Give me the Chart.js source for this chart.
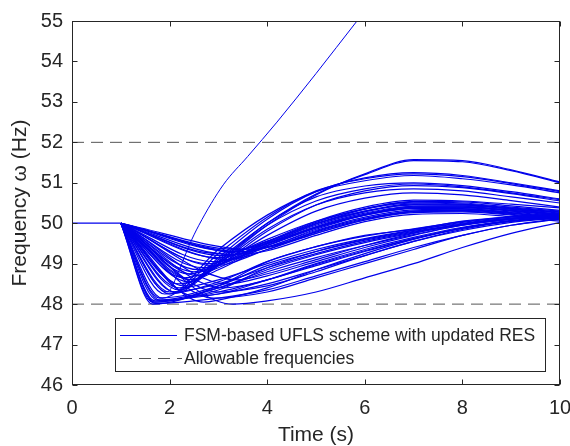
<!DOCTYPE html>
<html>
<head>
<meta charset="utf-8">
<script src="https://cdn.jsdelivr.net/npm/chart.js@4.4.1/dist/chart.umd.min.js"></script>
<style>
html,body{margin:0;padding:0;background:#fff;}
#wrap{width:570px;height:446px;}
</style>
</head>
<body>
<div id="wrap"><canvas id="c" width="570" height="446"></canvas></div>
<script>
// ---------- data ----------
const xTicks = [0, 2, 4, 6, 8, 10];
const yTicks = [46, 47, 48, 49, 50, 51, 52, 53, 54, 55];
const legendLabels = ['FSM-based UFLS scheme with updated RES', 'Allowable frequencies'];
const limitFreqs = [48, 52];
const preEventTimes = [0, 1];
const preEventFreqs = [50, 50];
const timeGrid = [3, 4, 5, 6, 7, 8, 9, 10];
// each row: [minTime, minFreq, f(3), f(4), f(5), f(6), f(7), f(8), f(9), f(10)]
const upperCurves = [
  [2.2, 48.35, 49.0, 49.95, 50.7, 51.22, 51.57, 51.55, 51.32, 51.02],
  [2.1, 48.30, 49.1, 50.0, 50.72, 51.2, 51.55, 51.52, 51.3, 51.0],
  [2.0, 48.25, 49.25, 50.15, 50.8, 51.1, 51.22, 51.15, 50.98, 50.78],
  [2.15, 48.28, 49.15, 50.1, 50.78, 51.12, 51.25, 51.18, 51.0, 50.8],
  [1.85, 48.15, 49.35, 50.2, 50.78, 51.05, 51.18, 51.1, 50.95, 50.75],
  [2.4, 48.55, 49.05, 49.95, 50.55, 50.85, 50.97, 50.9, 50.75, 50.58],
  [2.3, 48.45, 49.05, 50.0, 50.65, 50.92, 51.0, 50.93, 50.78, 50.6],
  [2.6, 48.70, 48.95, 49.8, 50.45, 50.8, 50.93, 50.88, 50.73, 50.55],
  [2.45, 48.6, 49.0, 49.85, 50.45, 50.75, 50.85, 50.8, 50.65, 50.5],
  [2.5, 48.60, 48.95, 49.7, 50.3, 50.62, 50.75, 50.7, 50.56, 50.4]
];
const middleCurves = [
  [2.8, 49.0, null, 49.55, 50.05, 50.4, 50.57, 50.55, 50.47, 50.38],
  [3.0, 49.25, null, 49.55, 50.02, 50.36, 50.54, 50.53, 50.43, 50.32],
  [3.0, 49.15, null, 49.5, 49.98, 50.35, 50.52, 50.5, 50.4, 50.3],
  [2.5, 48.8, 48.98, 49.52, 49.98, 50.3, 50.48, 50.47, 50.38, 50.28],
  [3.3, 49.3, null, 49.55, 50.0, 50.3, 50.45, 50.45, 50.36, 50.25],
  [2.6, 48.85, 49.05, 49.6, 50.05, 50.35, 50.5, 50.47, 50.35, 50.22],
  [3.4, 49.35, null, 49.5, 49.9, 50.22, 50.4, 50.4, 50.32, 50.2],
  [3.3, 49.22, null, 49.45, 49.88, 50.2, 50.38, 50.4, 50.32, 50.2],
  [2.3, 48.65, 48.9, 49.48, 49.92, 50.25, 50.42, 50.42, 50.32, 50.2],
  [2.9, 49.05, null, 49.4, 49.85, 50.2, 50.38, 50.38, 50.3, 50.18],
  [3.1, 49.2, null, 49.42, 49.82, 50.15, 50.33, 50.35, 50.28, 50.15],
  [2.7, 48.9, 48.98, 49.45, 49.9, 50.22, 50.42, 50.43, 50.35, 50.22],
  [3.5, 49.3, null, 49.4, 49.75, 50.08, 50.28, 50.3, 50.22, 50.1],
  [3.7, 49.35, null, 49.4, 49.78, 50.1, 50.3, 50.33, 50.25, 50.12],
  [2.4, 48.75, 48.95, 49.5, 49.95, 50.28, 50.46, 50.45, 50.36, 50.27],
  [2.9, 48.95, null, 49.35, 49.8, 50.12, 50.3, 50.32, 50.24, 50.12],
  [3.2, 49.1, null, 49.35, 49.75, 50.08, 50.26, 50.28, 50.2, 50.08],
  [2.2, 48.5, 48.85, 49.45, 49.9, 50.2, 50.36, 50.36, 50.26, 50.13],
  [3.6, 49.25, null, 49.32, 49.7, 50.04, 50.22, 50.24, 50.16, 50.05]
];
const slowCurves = [
  [3.3, 48.0, null, 48.08, 48.3, 48.65, 49.0, 49.4, 49.75, 50.02],
  [2.9, 48.15, null, 48.3, 48.65, 49.0, 49.35, 49.7, 49.95, 50.1],
  [1.7, 48.02, 48.15, 48.35, 48.7, 49.05, 49.4, 49.7, 49.95, 50.12],
  [1.8, 48.1, 48.25, 48.5, 48.85, 49.2, 49.55, 49.82, 50.02, 50.14],
  [1.65, 48.05, 48.3, 48.6, 48.95, 49.3, 49.62, 49.88, 50.05, 50.15],
  [3.1, 48.4, null, 48.6, 48.98, 49.32, 49.62, 49.88, 50.05, 50.16],
  [1.75, 48.1, 48.4, 48.8, 49.15, 49.45, 49.72, 49.95, 50.1, 50.18],
  [1.7, 48.05, 48.4, 48.85, 49.22, 49.52, 49.76, 49.96, 50.1, 50.2],
  [1.8, 48.15, 48.45, 48.95, 49.3, 49.58, 49.8, 49.98, 50.12, 50.2],
  [3.0, 48.3, null, 48.45, 48.8, 49.2, 49.55, 49.85, 50.05, 50.15],
  [2.5, 48.2, 48.25, 48.6, 49.0, 49.35, 49.65, 49.9, 50.07, 50.17],
  [2.0, 48.3, 48.5, 48.9, 49.25, 49.55, 49.78, 49.97, 50.1, 50.17],
  [1.7, 48.08, 48.35, 48.9, 49.3, 49.6, 49.82, 50.02, 50.15, 50.24],
  [3.2, 48.5, null, 48.7, 49.05, 49.4, 49.7, 49.95, 50.1, 50.2],
  [3.4, 48.6, null, 48.75, 49.1, 49.45, 49.75, 49.98, 50.12, 50.2],
  [1.9, 48.25, 48.55, 49.05, 49.42, 49.7, 49.85, 50.05, 50.16, 50.22],
  [2.7, 48.05, 48.1, 48.4, 48.85, 49.25, 49.6, 49.88, 50.06, 50.14],
  [1.65, 48.0, 48.45, 49.05, 49.42, 49.68, 49.86, 50.04, 50.16, 50.24],
  [2.2, 48.4, 48.6, 49.0, 49.35, 49.62, 49.83, 50.0, 50.12, 50.18]
];
const runawayTimes = [1, 1.95, 2.2, 2.4, 2.6, 3.1, 3.6, 4.2, 5.0, 5.84, 6.2];
const runawayFreqs = [50, 48.3, 48.85, 49.45, 49.95, 50.95, 51.65, 52.5, 53.7, 55.0, 55.55];

// ---------- build datasets ----------
const BLUE = 'rgb(0,0,235)';
const GRAYDASH = 'rgb(85,85,85)';
const DASH = [12, 7];
function curvePoints(row) {
  const pts = [{x: preEventTimes[1], y: preEventFreqs[1]}, {x: row[0], y: row[1]}];
  timeGrid.forEach((t, i) => {
    const v = row[i + 2];
    if (v !== null && t > row[0] + 0.1) pts.push({x: t, y: v});
  });
  return pts;
}
const lineStyle = {borderColor: BLUE, borderWidth: 1.2, pointRadius: 0, fill: false, cubicInterpolationMode: 'monotone'};
const datasets = [];
[...upperCurves, ...middleCurves, ...slowCurves].forEach((row, i) => {
  datasets.push(Object.assign({label: i === 0 ? legendLabels[0] : '', data: curvePoints(row)}, lineStyle));
});
datasets.push(Object.assign({label: '', data: runawayTimes.map((t, i) => ({x: t, y: runawayFreqs[i]}))}, lineStyle, {borderWidth: 1}));
datasets.push(Object.assign({label: '', data: preEventTimes.map((t, i) => ({x: t, y: preEventFreqs[i]}))}, lineStyle));
limitFreqs.forEach((f, i) => {
  datasets.push({label: i === 0 ? legendLabels[1] : '', data: [{x: xTicks[0], y: f}, {x: xTicks[xTicks.length - 1], y: f}],
    borderColor: GRAYDASH, borderWidth: 1, borderDash: DASH, pointRadius: 0, fill: false});
});

// ---------- plugins ----------
const AXC = '#262626';
const framePlugin = {
  id: 'frame',
  afterDatasetsDraw(chart) {
    const {ctx, chartArea: a, scales: {x, y}} = chart;
    const L = Math.round(a.left) + 0.5, R = Math.round(a.right) - 0.5;
    const T = Math.round(a.top) + 0.5, B = Math.round(a.bottom) - 0.5;
    ctx.save();
    ctx.strokeStyle = AXC; ctx.lineWidth = 1;
    ctx.strokeRect(L, T, R - L, B - T);
    ctx.beginPath();
    const len = 5;
    xTicks.forEach(v => {
      const px = Math.round(x.getPixelForValue(v)) + 0.5;
      ctx.moveTo(px, B); ctx.lineTo(px, B - len);
      ctx.moveTo(px, T); ctx.lineTo(px, T + len);
    });
    yTicks.forEach(v => {
      const py = Math.round(y.getPixelForValue(v)) + 0.5;
      ctx.moveTo(L, py); ctx.lineTo(L + len, py);
      ctx.moveTo(R, py); ctx.lineTo(R - len, py);
    });
    ctx.stroke();
    ctx.restore();
  }
};
const legendPlugin = {
  id: 'boxLegend',
  afterDraw(chart) {
    const {ctx} = chart;
    const bx = 115.5, by = 318.5, bw = 430, bh = 53;
    ctx.save();
    ctx.fillStyle = '#fff';
    ctx.fillRect(bx, by, bw, bh);
    ctx.strokeStyle = AXC; ctx.lineWidth = 1;
    ctx.strokeRect(bx, by, bw, bh);
    const rows = [335, 358];
    ctx.lineWidth = 1;
    ctx.strokeStyle = BLUE; ctx.setLineDash([]);
    ctx.beginPath(); ctx.moveTo(120, rows[0] + 0.5); ctx.lineTo(177, rows[0] + 0.5); ctx.stroke();
    ctx.strokeStyle = GRAYDASH; ctx.setLineDash(DASH);
    ctx.beginPath(); ctx.moveTo(120, rows[1] + 0.5); ctx.lineTo(182, rows[1] + 0.5); ctx.stroke();
    ctx.setLineDash([]);
    ctx.fillStyle = AXC;
    ctx.font = '17.5px "Liberation Sans", Arial, sans-serif';
    ctx.textBaseline = 'middle';
    ctx.fillText(legendLabels[0], 184, rows[0] + 1);
    ctx.fillText(legendLabels[1], 184, rows[1] + 1);
    ctx.restore();
  }
};

Chart.defaults.font.family = '"Liberation Sans", Arial, sans-serif';
Chart.defaults.color = AXC;

new Chart(document.getElementById('c'), {
  type: 'line',
  data: {datasets},
  plugins: [framePlugin, legendPlugin],
  options: {
    responsive: false,
    animation: false,
    devicePixelRatio: 1,
    layout: {padding: {left: 8, right: 10, top: 21, bottom: 0}},
    plugins: {legend: {display: false}, tooltip: {enabled: false}},
    scales: {
      x: {
        type: 'linear', min: 0, max: 10,
        grid: {display: false, drawTicks: false},
        border: {display: false},
        ticks: {stepSize: 2, padding: 11, font: {size: 20}, color: AXC, maxRotation: 0},
        title: {display: true, text: 'Time (s)', font: {size: 21, lineHeight: 1.0}, color: AXC, padding: 0},
        afterFit(s) { s.height = 61; s.paddingLeft = 0; s.paddingRight = 0; }
      },
      y: {
        type: 'linear', min: 46, max: 55,
        grid: {display: false, drawTicks: false},
        border: {display: false},
        ticks: {stepSize: 1, padding: 9, font: {size: 20}, color: AXC},
        title: {display: true, text: 'Frequency ω (Hz)', font: {size: 21, lineHeight: 1.2}, color: AXC, padding: 0},
        afterFit(s) { s.width = 64; s.paddingTop = 0; s.paddingBottom = 0; }
      }
    }
  }
});
</script>
</body>
</html>
